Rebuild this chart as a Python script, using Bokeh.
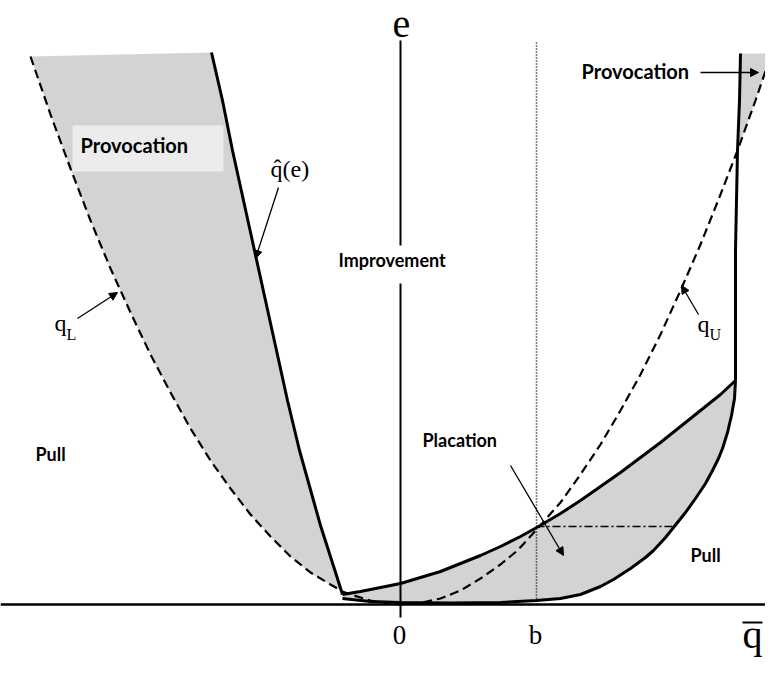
from bokeh.plotting import figure
from bokeh.models import Range1d, Label, Arrow, NormalHead, Span, BoxAnnotation
from bokeh.embed import file_html
from bokeh.resources import INLINE

# ---------------- data (q = horizontal, e = vertical) ----------------
# dashed q_L branch (top-left down to the minimum)
qL_q = [-370, -350, -330, -310, -290, -270, -250, -230, -210, -190, -170, -150,
        -130, -110, -90, -70, -58, -50, -30, -10, 0]
qL_e = [548, 490, 436, 384, 336, 292, 250, 212, 176, 144, 116, 90,
        68, 48, 32, 20, 13, 10, 4, 0.5, 0]
# dashed q_U branch (minimum up to top-right)
qU_q = [0, 20, 40, 60, 80, 100, 117, 138, 160, 180, 200, 220, 240, 260, 280,
        300, 320, 337, 355, 371]
qU_e = [0, 1.6, 6, 14, 26, 40, 54, 77, 102, 130, 160, 194, 230, 270, 314,
        360, 410, 454, 504, 551]
# q-hat(e): left solid branch
qhatL_q = [-189, -178, -168, -157, -146, -135, -124, -113, -101, -94, -87, -80, -72, -64, -58]
qhatL_e = [552, 504, 454, 404, 354, 304, 254, 204, 154, 129, 104, 79, 54, 29, 10]
# solid upper curve from the kink to the corner
upper_q = [-58, -40, -20, 0, 20, 40, 60, 80, 100, 120, 138, 160, 180, 200, 220,
           240, 260, 280, 300, 320, 335]
upper_e = [10, 13, 17, 21, 27, 33, 41, 49, 58, 68, 78, 91, 104, 118, 132,
           147, 162, 178, 194, 210, 224]
# solid lower curve from the kink to the corner
lower_q = [-58, -30, 0, 50, 100, 136, 160, 180, 200, 213, 230, 245, 253, 265, 273,
           285, 295, 305, 312, 318, 322, 327, 331, 334, 335]
lower_e = [6, 3, 2, 1.5, 2, 4, 6, 10, 18, 25, 36, 47, 54, 67, 77,
           92, 106, 121, 134, 146, 156, 172, 189, 206, 224]
# q-hat(e): right, almost vertical branch
qhatR_q = [335, 335, 335, 336, 337, 339, 340]
qhatR_e = [224, 304, 354, 404, 454, 504, 551]

# axis tick labels / marks
b_value = 136
e_at_b = 78
dashdot_end_q = 273
tick_labels = ["0", "b"]
tick_values = [0, b_value]

GRAY = "#d3d3d3"
SERIF = "Liberation Serif"
SANS = "Lato"

p = figure(width=765, height=657, output_backend="svg", toolbar_location=None,
           x_range=Range1d(-400, 365), y_range=Range1d(-53, 604),
           min_border=0, min_border_left=0, min_border_right=0,
           min_border_top=0, min_border_bottom=0)
p.axis.visible = False
p.grid.visible = False
p.outline_line_color = None
p.background_fill_color = "white"
p.border_fill_color = "white"

# ---------------- shaded regions ----------------
cut = qhatL_q[-1]
left_fill = [(q, e) for q, e in zip(qL_q, qL_e) if q <= cut]
px = [q for q, _ in left_fill] + qhatL_q[::-1]
py = [e for _, e in left_fill] + qhatL_e[::-1]
p.patch(px, py, fill_color=GRAY, line_color=None)

p.patch(upper_q + lower_q[::-1], upper_e + lower_e[::-1], fill_color=GRAY, line_color=None)

e_cross = 454
rq = [q for q, e in zip(qhatR_q, qhatR_e) if e >= e_cross]
re_ = [e for e in qhatR_e if e >= e_cross]
uq = [q for q, e in zip(qU_q, qU_e) if e >= e_cross]
ue = [e for e in qU_e if e >= e_cross]
p.patch(rq + uq[::-1], re_ + ue[::-1], fill_color=GRAY, line_color=None)

# provocation label box
p.add_layout(BoxAnnotation(left=72 - 400, right=223 - 400, top=604 - 125, bottom=604 - 171,
                           fill_color="#ececec", fill_alpha=1, line_color=None))

# ---------------- axes ----------------
p.add_layout(Span(location=0, dimension="width", line_color="black", line_width=2.5))
p.segment(x0=[0, 0], y0=[-13, 359], x1=[0, 0], y1=[321, 564], line_color="black", line_width=2)

# dotted line at b and dash-dot at e(b)
p.segment(x0=[b_value], y0=[0], x1=[b_value], y1=[562], line_color="black",
          line_width=1.6, line_dash="1 2")
p.segment(x0=[b_value], y0=[e_at_b], x1=[dashdot_end_q], y1=[e_at_b], line_color="black",
          line_width=1.5, line_dash="8 3 2 3")

# ---------------- curves ----------------
p.line(qL_q + qU_q[1:], qL_e + qU_e[1:], line_color="black", line_width=2.2, line_dash="9 5")
p.line(qhatL_q, qhatL_e, line_color="black", line_width=3)
p.line(upper_q, upper_e, line_color="black", line_width=3)
p.line(lower_q, lower_e, line_color="black", line_width=3)
p.line(qhatR_q, qhatR_e, line_color="black", line_width=3)

# ---------------- labels ----------------
# empirical shift of the rendered alphabetic baseline, by font size
SHIFT = {16: 7, 18: 8, 20: 9, 24: 9, 27: 9, 40: 12}

def lab(X, Y, text, size, font=SERIF, bold=False, align="left"):
    """X, Y: desired left/centre x and baseline y in reference pixels."""
    p.add_layout(Label(x=X - 400, y=604 - Y + SHIFT[size], text=text, text_font=font,
                       text_font_size=f"{size}px",
                       text_font_style="bold" if bold else "normal", text_color="black",
                       text_align=align, text_baseline="alphabetic"))

lab(401, 35, "e", 40, align="center")
for v, t in zip(tick_values, tick_labels):
    lab(400 + v - 1, 643, t, 27, align="center")
lab(752, 646, "q", 40, align="center")
p.segment(x0=[342], y0=[604 - 622], x1=[362], y1=[604 - 622], line_color="black", line_width=2)

lab(270, 177, "q\u0302(e)", 24)
lab(54, 331, "q", 24)
lab(66, 341, "L", 16)
lab(697, 332, "q", 24)
lab(709, 341, "U", 16)

lab(80, 153, "Provocation", 20, font=SANS, bold=True)
lab(581, 79, "Provocation", 20, font=SANS, bold=True)
lab(338, 267, "Improvement", 18, font=SANS, bold=True)
lab(35, 461, "Pull", 18, font=SANS, bold=True)
lab(422, 447, "Placation", 18, font=SANS, bold=True)
lab(690, 562, "Pull", 18, font=SANS, bold=True)

# ---------------- arrows ----------------
arrows = [((278, 187), (255, 258)), ((77, 318), (117, 292)), ((698, 314), (681, 285)),
          ((700, 72), (758, 72)), ((510, 465), (563, 555))]
for (x0, y0), (x1, y1) in arrows:
    p.add_layout(Arrow(end=NormalHead(size=8, fill_color="black", line_color="black", line_width=1),
                       x_start=x0 - 400, y_start=604 - y0, x_end=x1 - 400, y_end=604 - y1,
                       line_color="black", line_width=1.3))

open("out.html", "w").write(file_html(p, INLINE))
